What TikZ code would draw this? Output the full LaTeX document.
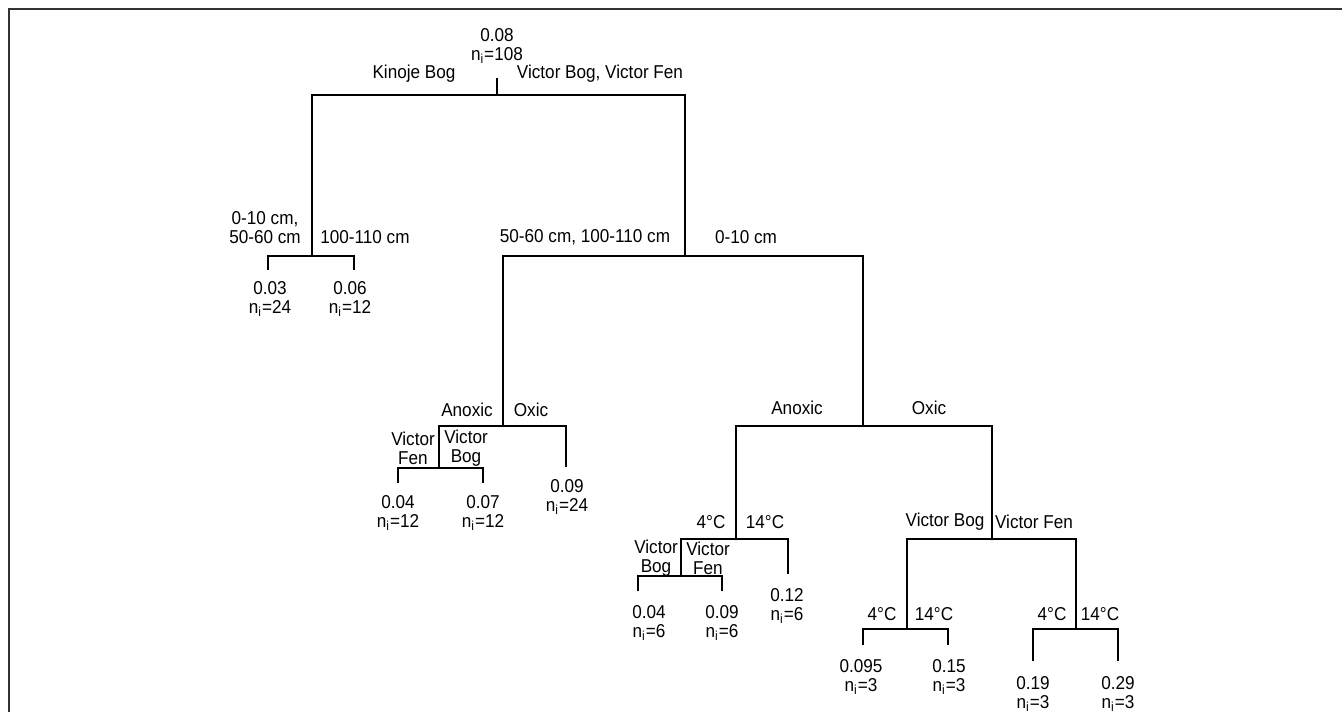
\documentclass[tikz,border=0pt]{standalone}
\usepackage{fontspec}
\setmainfont{Liberation Sans}[FakeStretch=0.92]
\usetikzlibrary{positioning}
\newcommand{\nsub}[1]{n\textsubscript{i}=#1}
\tikzset{branch/.style={draw=black, line width=1.6pt}}
\tikzset{frame/.style={draw=black!80, line width=1.2pt}}
\tikzset{split/.style={font=\fontsize{10.6}{10.8}\selectfont, inner sep=0pt, align=center}}
\tikzset{leaf/.style={font=\fontsize{10.6}{10.8}\selectfont, inner sep=0pt, align=center}}

\begin{document}
\begin{tikzpicture}[x=0.02cm, y=-0.02cm]
	\useasboundingbox (0,0) rectangle (1342,712);
	
	%%% NODES %%%
	
	% ROOT
	\node[leaf] at (497,46) (root) {0.08\\\nsub{108}};
	\coordinate (rootstem) at (497,78);
	\coordinate (site) at (497,95);
	\node[split] at (414,74) (kinoje) {Kinoje Bog};
	\node[split] at (600,74) (victor) {Victor Bog, Victor Fen};
	
	% DEPTH
	\coordinate (depthK) at (312,256);
	\coordinate (depthV) at (685,256);
	\node[split] at (265,228) (shallowK) {0-10 cm,\\50-60 cm};
	\node[split] at (365,237) (deepK) {100-110 cm};
	\node[split] at (585,237) (deepV) {50-60 cm, 100-110 cm};
	\node[split] at (746,237) (shallowV) {0-10 cm};
	\coordinate (leafKa) at (268,270);
	\coordinate (leafKb) at (354,270);
	\node[leaf] at (270,299) (valKa) {0.03\\\nsub{24}};
	\node[leaf] at (350,299) (valKb) {0.06\\\nsub{12}};
	
	% DEEP LAYERS
	\coordinate (oxyDeep) at (503,426);
	\node[split] at (467,410) (anoxicD) {Anoxic};
	\node[split] at (531,410) (oxicD) {Oxic};
	\coordinate (siteDeep) at (439,468);
	\node[split] at (413,448) (fenD) {Victor\\Fen};
	\node[split] at (466,448) (bogD) {Victor\\Bog};
	\coordinate (leafDa) at (398,483);
	\coordinate (leafDb) at (483,483);
	\coordinate (leafDc) at (566,467);
	\node[leaf] at (398,513) (valDa) {0.04\\\nsub{12}};
	\node[leaf] at (483,513) (valDb) {0.07\\\nsub{12}};
	\node[leaf] at (567,497) (valDc) {0.09\\\nsub{24}};
	
	% SHALLOW LAYER
	\coordinate (oxyShallow) at (863,426);
	\node[split] at (797,408) (anoxicS) {Anoxic};
	\node[split] at (929,408) (oxicS) {Oxic};
	\coordinate (tempAnoxic) at (736,539);
	\node[split] at (711,522) (coldA) {4°C};
	\node[split] at (765,522) (warmA) {14°C};
	\coordinate (siteAnoxic) at (681,576);
	\node[split] at (656,558) (bogA) {Victor\\Bog};
	\node[split] at (708,558) (fenA) {Victor\\Fen};
	\coordinate (leafAa) at (638,591);
	\coordinate (leafAb) at (722,591);
	\coordinate (leafAc) at (788,574);
	\node[leaf] at (649,623) (valAa) {0.04\\\nsub{6}};
	\node[leaf] at (722,623) (valAb) {0.09\\\nsub{6}};
	\node[leaf] at (787,606) (valAc) {0.12\\\nsub{6}};
	\coordinate (siteOxic) at (992,539);
	\node[split] at (945,522) (bogO) {Victor Bog};
	\node[split] at (1034,522) (fenO) {Victor Fen};
	\coordinate (tempBog) at (907,629);
	\coordinate (tempFen) at (1076,629);
	\node[split] at (882,614) (coldB) {4°C};
	\node[split] at (934,614) (warmB) {14°C};
	\node[split] at (1052,614) (coldF) {4°C};
	\node[split] at (1100,614) (warmF) {14°C};
	\coordinate (leafBa) at (863,645);
	\coordinate (leafBb) at (948,645);
	\coordinate (leafFa) at (1033,661);
	\coordinate (leafFb) at (1118,661);
	\node[leaf] at (861,677) (valBa) {0.095\\\nsub{3}};
	\node[leaf] at (949,677) (valBb) {0.15\\\nsub{3}};
	\node[leaf] at (1033,694) (valFa) {0.19\\\nsub{3}};
	\node[leaf] at (1118,694) (valFb) {0.29\\\nsub{3}};
	
	%%% BRANCHES %%%
	
	\draw[frame] (9,712) |- (1342,9);
	
	\draw[branch] (rootstem) -- (site);
	\draw[branch] (depthK) |- (site) -| (depthV);
	\draw[branch] (leafKa) |- (depthK) -| (leafKb);
	\draw[branch] (oxyDeep) |- (depthV) -| (oxyShallow);
	\draw[branch] (siteDeep) |- (oxyDeep) -| (leafDc);
	\draw[branch] (leafDa) |- (siteDeep) -| (leafDb);
	\draw[branch] (tempAnoxic) |- (oxyShallow) -| (siteOxic);
	\draw[branch] (siteAnoxic) |- (tempAnoxic) -| (leafAc);
	\draw[branch] (leafAa) |- (siteAnoxic) -| (leafAb);
	\draw[branch] (tempBog) |- (siteOxic) -| (tempFen);
	\draw[branch] (leafBa) |- (tempBog) -| (leafBb);
	\draw[branch] (leafFa) |- (tempFen) -| (leafFb);
	
\end{tikzpicture}
\end{document}
